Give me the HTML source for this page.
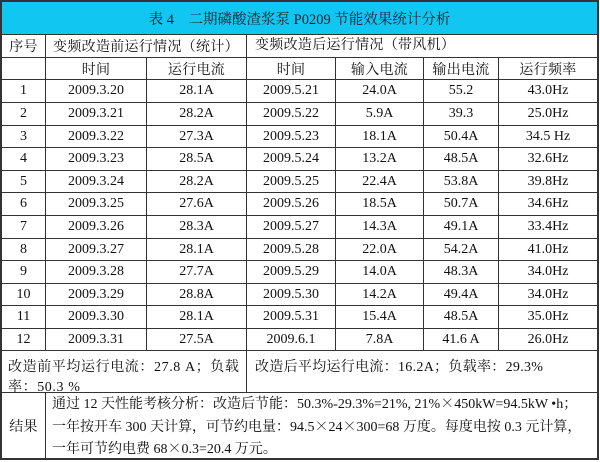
<!DOCTYPE html>
<html><head><meta charset="utf-8">
<style>
html,body{margin:0;padding:0;background:#fff;}
body{width:600px;height:462px;position:relative;overflow:hidden;
font-family:"Liberation Serif","Noto Serif CJK SC",serif;font-size:14px;color:#111;}
.h{position:absolute;left:0;width:599px;height:1px;background:#333;}
.v{position:absolute;width:1px;background:#333;}
.c{position:absolute;display:flex;align-items:center;justify-content:center;white-space:nowrap;}
.t{position:absolute;white-space:nowrap;}
.x{font-family:"Noto Serif CJK SC",serif;line-height:1;}
.cj{letter-spacing:0.3px;}
.rl{position:absolute;left:52px;height:22px;line-height:22px;white-space:nowrap;overflow:visible;}
</style></head><body>
<div style="position:absolute;left:0;top:0;width:599px;height:460px;box-sizing:border-box;border:2px solid #333;"></div>
<div style="position:absolute;left:2px;top:2px;width:595px;height:32px;background:#12c6f2;"></div>
<div class="c" style="left:2px;top:2px;width:595px;height:32px;color:#12202e;font-size:14.5px;">表 4　二期磷酸渣浆泵 P0209 节能效果统计分析</div>

<div class="h" style="top:34px"></div>
<div class="h" style="top:57px"></div>
<div class="h" style="top:79px"></div>
<div class="h" style="top:102px"></div>
<div class="h" style="top:125px"></div>
<div class="h" style="top:147px"></div>
<div class="h" style="top:170px"></div>
<div class="h" style="top:192px"></div>
<div class="h" style="top:215px"></div>
<div class="h" style="top:238px"></div>
<div class="h" style="top:260px"></div>
<div class="h" style="top:283px"></div>
<div class="h" style="top:305px"></div>
<div class="h" style="top:328px"></div>
<div class="h" style="top:350px"></div>
<div class="h" style="top:392px"></div>

<div class="v" style="left:45px;top:34px;height:316px"></div>
<div class="v" style="left:45px;top:392px;height:66px"></div>
<div class="v" style="left:146px;top:57px;height:293px"></div>
<div class="v" style="left:246px;top:34px;height:358px"></div>
<div class="v" style="left:335px;top:57px;height:293px"></div>
<div class="v" style="left:423px;top:57px;height:293px"></div>
<div class="v" style="left:498px;top:57px;height:293px"></div>

<div class="c cj" style="left:2px;top:35px;width:43px;height:22px">序号</div>
<div class="c cj" style="left:46px;top:35px;width:200px;height:22px">变频改造前运行情况（统计）</div>
<div class="t cj" style="left:255px;top:35px;height:22px;line-height:22px">变频改造后运行情况（带风机）</div>

<div class="c cj" style="left:46px;top:58px;width:100px;height:21px">时间</div>
<div class="c cj" style="left:147px;top:58px;width:99px;height:21px">运行电流</div>
<div class="c cj" style="left:247px;top:58px;width:88px;height:21px">时间</div>
<div class="c cj" style="left:336px;top:58px;width:87px;height:21px">输入电流</div>
<div class="c cj" style="left:424px;top:58px;width:74px;height:21px">输出电流</div>
<div class="c cj" style="left:499px;top:58px;width:98px;height:21px">运行频率</div>

<div id="rows"></div>
<script>
var d=[["1","2009.3.20","28.1A","2009.5.21","24.0A","55.2","43.0Hz"],
["2","2009.3.21","28.2A","2009.5.22","5.9A","39.3","25.0Hz"],
["3","2009.3.22","27.3A","2009.5.23","18.1A","50.4A","34.5 Hz"],
["4","2009.3.23","28.5A","2009.5.24","13.2A","48.5A","32.6Hz"],
["5","2009.3.24","28.2A","2009.5.25","22.4A","53.8A","39.8Hz"],
["6","2009.3.25","27.6A","2009.5.26","18.5A","50.7A","34.6Hz"],
["7","2009.3.26","28.3A","2009.5.27","14.3A","49.1A","33.4Hz"],
["8","2009.3.27","28.1A","2009.5.28","22.0A","54.2A","41.0Hz"],
["9","2009.3.28","27.7A","2009.5.29","14.0A","48.3A","34.0Hz"],
["10","2009.3.29","28.8A","2009.5.30","14.2A","49.4A","34.0Hz"],
["11","2009.3.30","28.1A","2009.5.31","15.4A","48.5A","35.0Hz"],
["12","2009.3.31","27.5A","2009.6.1","7.8A","41.6 A","26.0Hz"]];
var ys=[79,102,125,147,170,192,215,238,260,283,305,328,350];
var xs=[2,45,146,246,335,423,498,597];
var h="";
for(var i=0;i<12;i++){for(var j=0;j<7;j++){
var l=xs[j]+(j?1:0),w=xs[j+1]-l,t=ys[i]+1,hh=ys[i+1]-t;
h+='<div class="c" style="left:'+l+'px;top:'+t+'px;width:'+w+'px;height:'+hh+'px">'+d[i][j]+'</div>';}}
document.getElementById("rows").innerHTML=h;
</script>

<div class="t cj" style="left:8px;top:358px;line-height:20px;letter-spacing:0.6px">改造前平均运行电流：27.8 A；负载<br>率：50.3 %</div>
<div class="t cj" style="left:255px;top:358px;line-height:20px">改造后平均运行电流：16.2A；负载率：29.3%</div>

<div class="c cj" style="left:2px;top:393px;width:43px;height:65px">结果</div>
<div class="rl" style="top:394px">通过 12 天性能考核分析：改造后节能：50.3%-29.3%=21%, 21%<span class="x">×</span>450kW=94.5kW •h；</div>
<div class="rl" style="top:417px">一年按开车 300 天计算，可节约电量：94.5<span class="x">×</span>24<span class="x">×</span>300=68 万度。每度电按 0.3 元计算，</div>
<div class="rl" style="top:439px">一年可节约电费 68<span class="x">×</span>0.3=20.4 万元。</div>
</body></html>
